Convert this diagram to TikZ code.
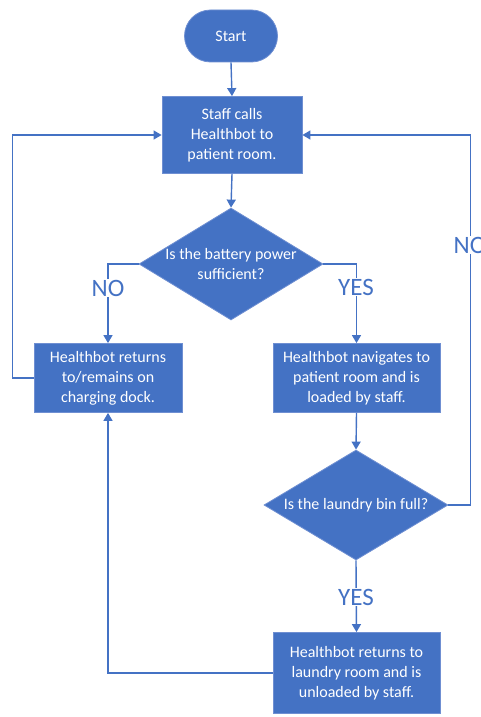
\documentclass[tikz,border=0pt]{standalone}
\usepackage{fontspec}
\setmainfont{Carlito}
\usetikzlibrary{shapes.geometric,arrows.meta}
\definecolor{hbblue}{HTML}{4472C4}
\definecolor{hbedge}{HTML}{6F8FD2}
\tikzset{
  hbbox/.style={rectangle,fill=hbblue,draw=hbedge,line width=0.8pt,text=white,align=center,font=\fontsize{16}{20}\selectfont,inner sep=0pt},
  hbdec/.style={diamond,fill=hbblue,draw=hbedge,line width=0.8pt,inner sep=0pt},
  hbtxt/.style={text=white,align=center,font=\fontsize{16}{20}\selectfont,inner sep=0pt},
  hbline/.style={draw=hbblue,line width=1.4pt},
  hbarrow/.style={hbline,-{Triangle[width=9pt,length=8pt]}},
  hbans/.style={fill=white,text=hbblue,font=\fontsize{25}{25}\selectfont,inner sep=1pt}
}
\begin{document}
\begin{tikzpicture}[x=1pt,y=-1pt]
\useasboundingbox (0,0) rectangle (481,717);
% shapes
\node[hbbox,rounded corners=26pt,minimum width=93pt,minimum height=52pt](start) at (231,36){Start};
\node[hbbox,minimum width=140pt,minimum height=77pt](staff) at (232,135){Staff calls\\Healthbot to\\patient room.};
\node[hbdec,minimum width=184pt,minimum height=112pt](d1) at (231,264){};
\node[hbtxt](d1t) at (231,264){Is the battery power\\sufficient?};
\node[hbbox,minimum width=148pt,minimum height=69pt](left) at (108,378){Healthbot returns\\to/remains on\\charging dock.};
\node[hbbox,minimum width=167pt,minimum height=69pt](right) at (356.5,378){Healthbot navigates to\\patient room and is\\loaded by staff.};
\node[hbdec,minimum width=184pt,minimum height=110pt](d2) at (356,505){};
\node[hbtxt](d2t) at (356,505){Is the laundry bin full?};
\node[hbbox,minimum width=167pt,minimum height=81pt](bottom) at (356.5,673){Healthbot returns to\\laundry room and is\\unloaded by staff.};
% connectors
\draw[hbarrow](start.south)--(staff.north);
\draw[hbarrow](staff.south)--(d1.north);
\draw[hbarrow](d1.west)-|(left.north);
\draw[hbarrow](d1.east)-|(right.north);
\draw[hbarrow](left.west)--++(-21,0)|-(staff.west);
\draw[hbarrow](right.south)--(d2.north);
\draw[hbarrow](d2.east)--++(22,0)coordinate(rc)--(rc|-staff.east)--(staff.east);
\draw[hbarrow](d2.south)--(bottom.north);
\draw[hbarrow](bottom.west)-|(left.south);
% answers
\node[hbans](no1) at (108,288){NO};
\node[hbans](yes1) at (356,287){YES};
\node[hbans](no2) at (470,245){NO};
\node[hbans](yes2) at (356,597){YES};
\end{tikzpicture}
\end{document}
